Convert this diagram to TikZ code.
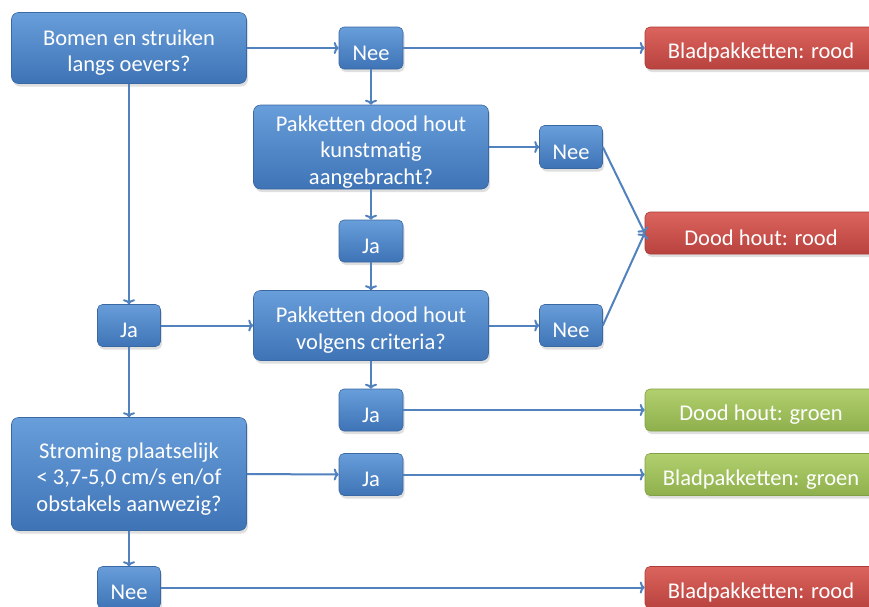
\documentclass[tikz,border=0pt]{standalone}
\usepackage{fontspec}
\setmainfont{Carlito}
\usetikzlibrary{arrows.meta,shadows}
\definecolor{btop}{RGB}{104,158,218}
\definecolor{bbot}{RGB}{62,115,182}
\definecolor{bdraw}{RGB}{58,104,162}
\definecolor{rtop}{RGB}{220,100,94}
\definecolor{rbot}{RGB}{184,66,62}
\definecolor{rdraw}{RGB}{170,60,56}
\definecolor{gtop}{RGB}{178,207,110}
\definecolor{gbot}{RGB}{142,176,76}
\definecolor{gdraw}{RGB}{130,160,70}
\definecolor{linec}{RGB}{82,130,190}
\newcommand{\mytopstrut}{\rule{0pt}{25pt}}
\begin{document}
\begin{tikzpicture}[x=1pt,y=-1pt,
  box/.style={rounded corners=7pt, top color=btop, bottom color=bbot, draw=bdraw,
    line width=0.6pt, text=white, align=center, inner sep=0pt,
    font=\fontsize{22.5}{26.5}\selectfont,
    drop shadow={opacity=0.25,shadow xshift=1.5pt,shadow yshift=-3pt}},
  bigbox/.style={box, minimum width=235pt},
  smallbox/.style={box, rounded corners=5pt, minimum width=64pt, minimum height=42pt},
  redbox/.style={box, rounded corners=5pt, top color=rtop, bottom color=rbot, draw=rdraw,
    minimum width=232pt, minimum height=42pt},
  greenbox/.style={box, rounded corners=5pt, top color=gtop, bottom color=gbot, draw=gdraw,
    minimum width=232pt, minimum height=42pt},
  conn/.style={draw=linec, line width=2pt, -{To[length=5pt,width=12pt]}}
]
\useasboundingbox (0,0) rectangle (869,606);
\fill[white] (0,0) rectangle (869,606);

\node[bigbox, minimum height=71pt] (A) at (129,48) {\mytopstrut Bomen en struiken\\langs oevers?};
\node[smallbox] (nee1) at (371,48) {\mytopstrut Nee};
\node[redbox] (red1) at (761,48) {\mytopstrut Bladpakketten: rood};
\node[bigbox, minimum height=84pt] (B) at (371,147) {\mytopstrut Pakketten dood hout\\kunstmatig\\aangebracht?};
\node[smallbox, minimum width=63pt, minimum height=43pt] (nee2) at (571,147) {\mytopstrut Nee};
\node[smallbox] (ja1) at (371,241) {\mytopstrut Ja};
\node[redbox] (red2) at (761,233) {\mytopstrut Dood hout: rood};
\node[bigbox, minimum height=70pt] (C) at (371,325.5) {\mytopstrut Pakketten dood hout\\volgens criteria?};
\node[smallbox, minimum width=63pt] (jaL) at (129,325.5) {\mytopstrut Ja};
\node[smallbox, minimum width=63pt] (nee3) at (571,325.5) {\mytopstrut Nee};
\node[smallbox] (ja2) at (371,410) {\mytopstrut Ja};
\node[greenbox] (green1) at (761,410) {\mytopstrut Dood hout: groen};
\node[bigbox, minimum height=113pt] (D) at (129,474) {\mytopstrut Stroming plaatselijk\\< 3,7-5,0 cm/s en/of\\obstakels aanwezig?};
\node[smallbox] (ja3) at (371,474.5) {\mytopstrut Ja};
\node[greenbox] (green2) at (761,474.5) {\mytopstrut Bladpakketten: groen};
\node[smallbox, minimum width=63pt] (nee4) at (129,587.5) {\mytopstrut Nee};
\node[redbox] (red3) at (761,587.5) {\mytopstrut Bladpakketten: rood};

\draw[conn] (A.east) -- (nee1.west);
\draw[conn] (nee1.east) -- (red1.west);
\draw[conn] (nee1.south) -- (B.north);
\draw[conn] (A.south) -- (jaL.north);
\draw[conn] (jaL.south) -- (D.north);
\draw[conn] (jaL.east) -- (C.west);
\draw[conn] (B.east) -- (nee2.west);
\draw[conn] (B.south) -- (ja1.north);
\draw[conn] (ja1.south) -- (C.north);
\draw[conn] (nee2.east) -- (red2.west);
\draw[conn] (C.east) -- (nee3.west);
\draw[conn] (nee3.east) -- (red2.west);
\draw[conn] (C.south) -- (ja2.north);
\draw[conn] (ja2.east) -- (green1.west);
\draw[conn] (D.east) -- (ja3.west);
\draw[conn] (ja3.east) -- (green2.west);
\draw[conn] (D.south) -- (nee4.north);
\draw[conn] (nee4.east) -- (red3.west);
\end{tikzpicture}
\end{document}
